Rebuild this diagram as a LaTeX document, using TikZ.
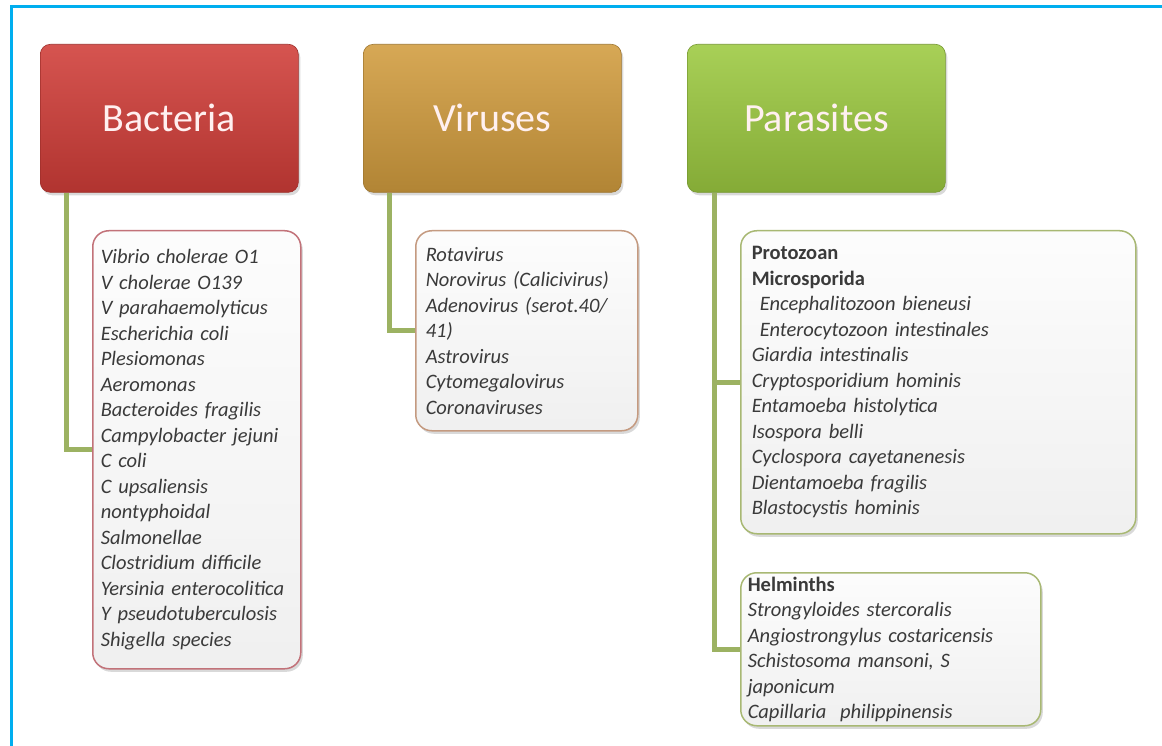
\documentclass[tikz,border=0pt]{standalone}
\usepackage{fontspec}
\setmainfont{Carlito}
\usepackage{tikz}
\usetikzlibrary{shadows}
\definecolor{framecyan}{HTML}{00AEEF}
\definecolor{bacred}{HTML}{D03D38}
\definecolor{virgold}{HTML}{D19C3E}
\definecolor{pargreen}{HTML}{9CC940}
\definecolor{bacedge}{HTML}{C27279}
\definecolor{viredge}{HTML}{C49A80}
\definecolor{paredge}{HTML}{A8B873}
\definecolor{linkgreen}{HTML}{9CB262}
\definecolor{listtext}{HTML}{3A3A3A}

\begin{document}
\begin{tikzpicture}[x=1pt,y=-1pt,
  head/.style={draw=#1!75!black, line width=0.6pt, rounded corners=10pt,
    top color=#1!88!white, bottom color=#1!85!black, anchor=north west,
    minimum width=258pt, minimum height=148pt,
    font=\fontsize{40}{48}\selectfont, text=white!94!red,
    drop shadow={opacity=0.3, shadow xshift=2pt, shadow yshift=-3pt}},
  listbox/.style={draw=#1, line width=1.5pt, rounded corners=16pt,
    top color=white!98!gray, bottom color=gray!12, anchor=north west,
    align=left, inner ysep=0pt, text=listtext,
    font=\fontsize{20.5}{25.5}\selectfont\itshape,
    drop shadow={opacity=0.3, shadow xshift=2pt, shadow yshift=-3pt}},
  link/.style={draw=linkgreen, line width=5pt}]
  \useasboundingbox (0,0) rectangle (1162,746);
  \draw[framecyan, line width=3pt] (11,746) -- (11,7) -- (1162,7);

  \node[head=bacred] (bac) at (40,44) {Bacteria};
  \node[head=virgold] (vir) at (363,44) {Viruses};
  \node[head=pargreen] (par) at (687,44) {Parasites};

  \node[listbox=bacedge, text width=192pt, inner xsep=8pt, minimum height=438pt]
    (baclist) at (92,230) {Vibrio cholerae O1\\ V cholerae O139\\ V parahaemolyticus\\
    Escherichia coli\\ Plesiomonas\\ Aeromonas\\ Bacteroides fragilis\\
    Campylobacter jejuni\\ C coli\\ C upsaliensis\\ nontyphoidal\\ Salmonellae\\
    Clostridium difficile\\ Yersinia enterocolitica\\ Y pseudotuberculosis\\
    Shigella species};
  \node[listbox=viredge, text width=202pt, inner xsep=10pt, minimum height=200pt]
    (virlist) at (415,230) {Rotavirus\\ Norovirus (Calicivirus)\\
    Adenovirus (serot.40/\\ 41)\\ Astrovirus\\ Cytomegalovirus\\ Coronaviruses};
  \node[listbox=paredge, text width=373pt, inner xsep=11pt, minimum height=303pt]
    (protlist) at (740,230) {{\upshape\bfseries Protozoan}\\ {\upshape\bfseries Microsporida}\\
    \hspace*{8pt}Encephalitozoon bieneusi\\ \hspace*{8pt}Enterocytozoon intestinales\\
    Giardia intestinalis\\ Cryptosporidium hominis\\ Entamoeba histolytica\\
    Isospora belli\\ Cyclospora cayetanenesis\\ Dientamoeba fragilis\\
    Blastocystis hominis};
  \node[listbox=paredge, text width=286pt, inner xsep=7pt, minimum height=153pt]
    (helmlist) at (740,572) {{\upshape\bfseries Helminths}\\ Strongyloides stercoralis\\
    Angiostrongylus costaricensis\\ Schistosoma mansoni, S\\ japonicum\\
    Capillaria~~philippinensis};

  \draw[link] ([xshift=26pt]bac.south west) |- (baclist.west);
  \draw[link] ([xshift=26pt]vir.south west) |- (virlist.west);
  \draw[link] ([xshift=27pt]par.south west) |- (protlist.west);
  \draw[link] ([xshift=27pt]par.south west) |- (helmlist.west);
\end{tikzpicture}
\end{document}
